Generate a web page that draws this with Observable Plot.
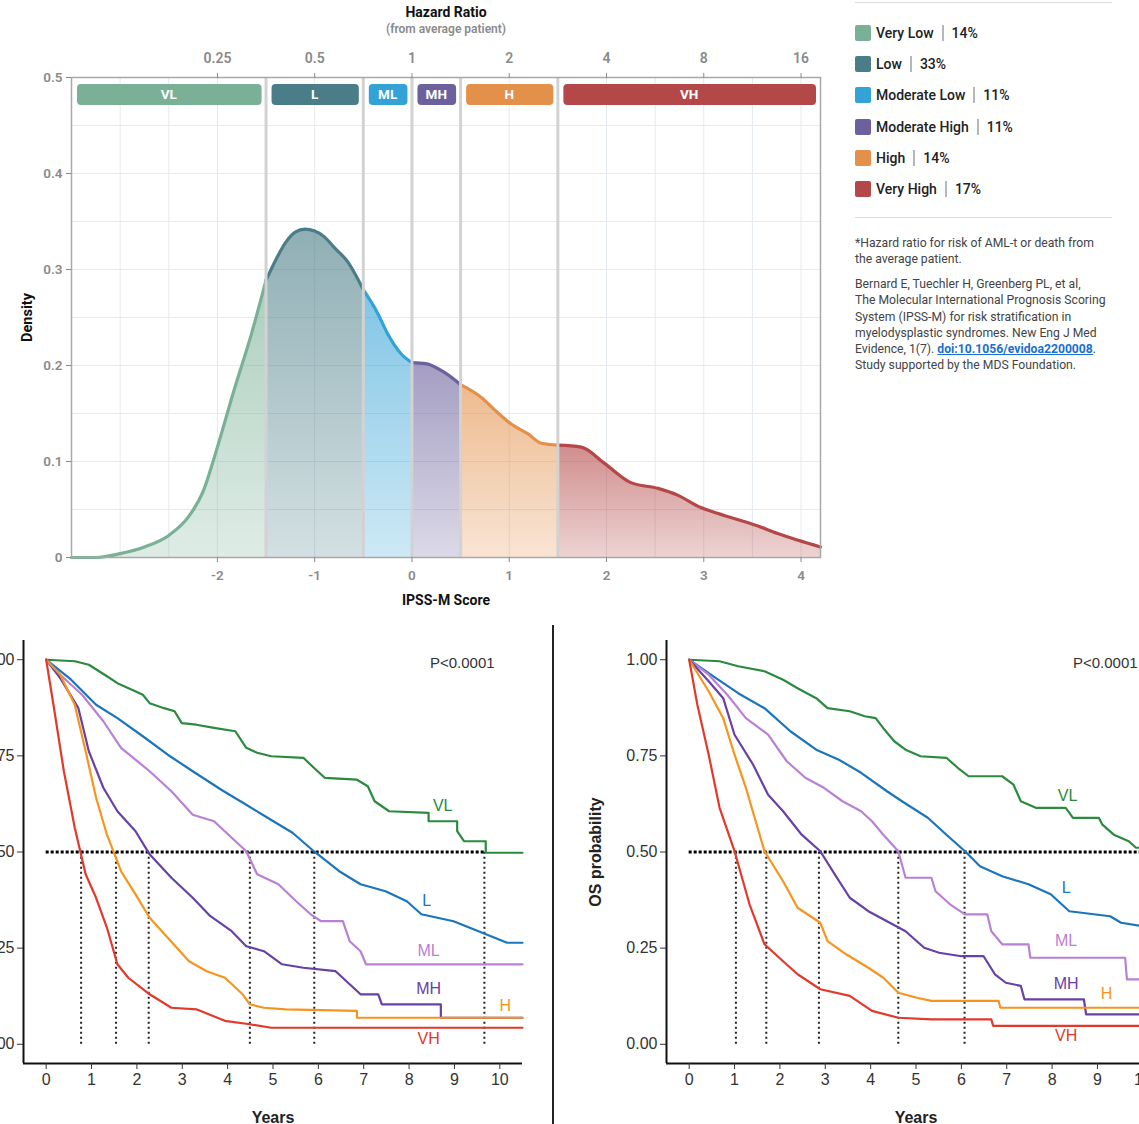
<!DOCTYPE html>
<html><head><meta charset="utf-8">
<script src="https://cdn.jsdelivr.net/npm/d3@7"></script>
<script src="https://cdn.jsdelivr.net/npm/@observablehq/plot@0.6"></script>
<style>
html,body{margin:0;padding:0;width:1139px;height:1124px;overflow:hidden;background:#fff;font-family:Roboto,sans-serif;}
body{position:relative;}
.abs{position:absolute;}
.rule{position:absolute;height:1px;background:#dcdcdc;}
.item{position:absolute;left:855px;height:18px;display:flex;align-items:center;font-size:14px;font-weight:500;color:#222;white-space:nowrap;}
.sw{width:16px;height:16px;border-radius:2px;margin-right:5px;}
.sep{width:2px;height:16px;background:#b3b8bf;margin:0 8px;}
.note{font-size:12.2px;line-height:16.3px;color:#444;white-space:nowrap;}
.note a{color:#1a6fd0;font-weight:700;text-decoration:underline;}
</style></head><body>
<div id="top" class="abs" style="left:0;top:0"></div>
<div id="km1" class="abs" style="left:-47px;top:620px"></div>
<div id="km2" class="abs" style="left:576px;top:620px"></div>
<div class="abs" style="left:552px;top:625px;width:2px;height:499px;background:#222"></div>
<div class="rule" style="left:855px;top:2px;width:257px"></div>
<div class="rule" style="left:855px;top:217px;width:257px"></div>
<div id="legend"></div>
<div class="abs note" style="left:855px;top:235px">*Hazard ratio for risk of AML-t or death from<br>the average patient.</div>
<div class="abs note" style="left:855px;top:276px">Bernard E, Tuechler H, Greenberg PL, et al,<br>The Molecular International Prognosis Scoring<br>System (IPSS-M) for risk stratification in<br>myelodysplastic syndromes. New Eng J Med<br>Evidence, 1(7). <a>doi:10.1056/evidoa2200008</a>.<br>Study supported by the MDS Foundation.</div>
<script>
// ---------- data ----------
const categories = ["VL","L","ML","MH","H","VH"];
const categoryNames = ["Very Low","Low","Moderate Low","Moderate High","High","Very High"];
const categoryShares = ["14%","33%","11%","11%","14%","17%"];
const categoryColors = ["#79b096","#4a7d87","#33a2d6","#6c619c","#e3904a","#b44747"];
const scoreBounds = [-3.5,-1.5,-0.5,0,0.5,1.5,4.2];
const scoreTicks = [-2,-1,0,1,2,3,4];
const hazardRatios = [0.25,0.5,1,2,4,8,16];
const densityTicks = [0,0.1,0.2,0.3,0.4,0.5];
const gridXTicks = [-3.5,-3,-2.5,-2,-1.5,-1,-0.5,0,0.5,1,1.5,2,2.5,3,3.5,4];
const gridYTicks = [0.05,0.1,0.15,0.2,0.25,0.3,0.35,0.4,0.45];
const densityScore = [-3.5,-3.25,-3.0,-2.75,-2.5,-2.3,-2.15,-2.0,-1.83,-1.65,-1.5,-1.4,-1.3,-1.2,-1.1,-1.0,-0.9,-0.8,-0.66,-0.5,-0.35,-0.25,-0.11,0,0.14,0.33,0.5,0.71,0.88,1.02,1.19,1.33,1.5,1.74,1.98,2.25,2.53,2.73,2.97,3.14,3.55,3.76,4.2];
const densityValue = [0,0,0.004,0.011,0.023,0.042,0.068,0.115,0.174,0.233,0.289,0.31,0.328,0.339,0.342,0.34,0.334,0.323,0.308,0.279,0.254,0.233,0.212,0.203,0.202,0.193,0.18,0.167,0.151,0.139,0.129,0.119,0.117,0.115,0.098,0.078,0.072,0.065,0.052,0.046,0.033,0.025,0.011];

const kmColors = ["#2a8a3e","#1b75bc","#b980d4","#6740a8","#f7941d","#e2392b"];
const yearTicks = [0,1,2,3,4,5,6,7,8,9,10];
const probTicks = [0,0.25,0.5,0.75,1];

const leftVL = [[0,1],[0.63,0.996],[0.94,0.987],[1.34,0.957],[1.57,0.939],[1.89,0.922],[2.13,0.909],[2.28,0.887],[2.6,0.874],[2.83,0.866],[2.99,0.835],[3.31,0.831],[3.7,0.823],[4.17,0.814],[4.41,0.771],[4.65,0.758],[4.96,0.749],[5.67,0.745],[5.9,0.719],[6.14,0.693],[6.85,0.688],[7.09,0.671],[7.24,0.632],[7.56,0.606],[8.43,0.602],[8.43,0.58],[9.06,0.58],[9.06,0.554],[9.21,0.528],[9.69,0.528],[9.69,0.498],[10.5,0.498]];
const leftL = [[0,1],[0.55,0.948],[1.1,0.883],[1.57,0.848],[2.13,0.801],[2.68,0.753],[3.23,0.71],[3.86,0.662],[4.41,0.623],[4.88,0.589],[5.43,0.55],[5.9,0.502],[6.46,0.45],[6.93,0.416],[7.48,0.398],[7.95,0.372],[8.27,0.338],[8.98,0.32],[9.53,0.294],[10.16,0.264],[10.5,0.264]];
const leftML = [[0,1],[0.31,0.961],[0.79,0.909],[1.26,0.84],[1.65,0.771],[2.28,0.71],[2.76,0.658],[3.23,0.597],[3.7,0.58],[4.09,0.537],[4.41,0.502],[4.65,0.442],[5.12,0.416],[5.51,0.372],[5.83,0.338],[6.06,0.32],[6.54,0.32],[6.69,0.268],[6.93,0.242],[7.05,0.208],[10.5,0.208]];
const leftMH = [[0,1],[0.31,0.952],[0.71,0.874],[0.94,0.762],[1.26,0.667],[1.57,0.606],[1.97,0.554],[2.28,0.494],[2.76,0.433],[3.23,0.381],[3.62,0.333],[4.09,0.294],[4.41,0.255],[4.8,0.242],[5.2,0.208],[5.67,0.199],[6.38,0.19],[6.69,0.156],[6.93,0.13],[7.32,0.13],[7.4,0.104],[8.7,0.104],[8.7,0.069],[10.5,0.069]];
const leftH = [[0,1],[0.31,0.961],[0.63,0.883],[0.87,0.762],[1.1,0.641],[1.34,0.545],[1.65,0.45],[1.97,0.39],[2.28,0.329],[2.68,0.277],[3.15,0.216],[3.54,0.19],[3.94,0.173],[4.33,0.13],[4.49,0.104],[4.8,0.095],[5.28,0.091],[6.85,0.087],[6.85,0.069],[10.5,0.069]];
const leftVH = [[0,1],[0.16,0.883],[0.39,0.71],[0.63,0.563],[0.87,0.442],[1.1,0.381],[1.34,0.303],[1.57,0.208],[1.81,0.173],[2.28,0.13],[2.76,0.095],[3.31,0.091],[3.94,0.061],[4.49,0.052],[4.96,0.043],[10.5,0.043]];
const leftMedians = [0.77,1.54,2.26,4.49,5.91,9.66];
const leftLabelX = [8.74,8.39,8.43,8.43,10.12,8.43];
const leftLabelY = [0.619,0.372,0.242,0.145,0.1,0.013];

const rightVL = [[0,1],[0.67,0.996],[1.08,0.983],[1.66,0.97],[2.07,0.948],[2.39,0.926],[2.8,0.9],[3.05,0.874],[3.54,0.866],[3.87,0.853],[4.11,0.848],[4.28,0.822],[4.52,0.788],[4.77,0.766],[5.1,0.749],[5.67,0.745],[5.92,0.719],[6.16,0.697],[6.9,0.697],[7.15,0.675],[7.31,0.632],[7.64,0.615],[8.3,0.615],[8.46,0.589],[9.03,0.589],[9.11,0.571],[9.36,0.545],[9.69,0.528],[9.85,0.511],[10.5,0.511]];
const rightL = [[0,1],[0.59,0.952],[1.08,0.913],[1.66,0.874],[2.23,0.814],[2.8,0.766],[3.3,0.74],[3.79,0.706],[4.36,0.658],[4.69,0.632],[5.26,0.589],[5.67,0.545],[6.08,0.502],[6.41,0.463],[6.9,0.437],[7.48,0.416],[7.97,0.39],[8.21,0.364],[8.38,0.346],[9.28,0.333],[9.52,0.316],[10.0,0.307],[10.5,0.3]];
const rightML = [[0,1],[0.43,0.961],[0.84,0.909],[1.25,0.848],[1.74,0.805],[2.15,0.736],[2.56,0.693],[2.97,0.667],[3.38,0.632],[3.79,0.606],[4.03,0.58],[4.28,0.545],[4.61,0.502],[4.77,0.433],[5.34,0.433],[5.43,0.398],[5.75,0.364],[6.08,0.338],[6.57,0.338],[6.66,0.294],[6.9,0.26],[7.48,0.26],[7.52,0.225],[9.61,0.225],[9.65,0.169],[10.5,0.169]];
const rightMH = [[0,1],[0.43,0.944],[0.75,0.9],[1.0,0.805],[1.41,0.727],[1.74,0.649],[2.07,0.606],[2.48,0.545],[2.89,0.502],[3.21,0.442],[3.54,0.381],[3.95,0.346],[4.36,0.32],[4.77,0.294],[5.18,0.251],[5.51,0.238],[6.0,0.229],[6.49,0.229],[6.74,0.182],[6.98,0.16],[7.31,0.152],[7.39,0.117],[8.7,0.117],[8.75,0.078],[10.5,0.078]];
const rightH = [[0,1],[0.43,0.918],[0.75,0.848],[1.0,0.753],[1.25,0.667],[1.66,0.502],[2.07,0.424],[2.39,0.355],[2.89,0.316],[3.05,0.268],[3.46,0.234],[3.95,0.199],[4.28,0.173],[4.61,0.134],[5.02,0.121],[5.34,0.113],[6.82,0.113],[6.86,0.095],[10.5,0.095]];
const rightVH = [[0,1],[0.18,0.883],[0.43,0.753],[0.67,0.615],[1.0,0.502],[1.33,0.364],[1.66,0.26],[2.07,0.216],[2.39,0.182],[2.89,0.143],[3.54,0.126],[4.03,0.087],[4.61,0.069],[5.34,0.065],[6.66,0.065],[6.7,0.048],[10.5,0.048]];
const rightMedians = [1.03,1.70,2.86,4.61,6.07];
const rightLabelX = [8.34,8.31,8.31,8.31,9.2,8.31];
const rightLabelY = [0.645,0.407,0.268,0.156,0.13,0.022];
const pValueText = "P<0.0001";

// ---------- top density chart ----------
const densityPts = densityScore.map((s, i) => ({score: s, density: densityValue[i]}));
const segments = categories.map((c, i) => densityPts.filter(d => d.score >= scoreBounds[i] && d.score <= scoreBounds[i + 1]));
const catData = categories.map((c, i) => ({cat: c, lo: scoreBounds[i], hi: scoreBounds[i + 1]}));
const centered = {textAnchor: "middle", lineAnchor: "middle"};

const topSvg = Plot.plot({
  width: 840, height: 620,
  marginLeft: 71, marginRight: 20, marginTop: 77, marginBottom: 63,
  x: {domain: [scoreBounds[0], scoreBounds[scoreBounds.length - 1]]},
  y: {domain: [0, 0.5]},
  color: {domain: categories, range: categoryColors},
  style: {fontFamily: "Roboto, sans-serif", background: "transparent", overflow: "visible", maxWidth: "none"},
  marks: [
    Plot.gridX(gridXTicks, {stroke: "#e4eaef", strokeOpacity: 1}),
    Plot.gridY(gridYTicks, {stroke: "#e4eaef", strokeOpacity: 1}),
    ...segments.map((seg, i) => Plot.areaY(seg, {x: "score", y: "density", fill: `url(#grad-${categories[i]})`, curve: "monotone-x"})),
    ...segments.map((seg, i) => Plot.line(seg, {x: "score", y: "density", stroke: categoryColors[i], strokeWidth: 3.2, curve: "monotone-x"})),
    Plot.ruleX(scoreBounds.slice(1, -1), {stroke: "#d2d2d2", strokeWidth: 3}),
    Plot.frame({stroke: "#a8a8a8", strokeWidth: 1.5}),
    Plot.rect(catData, {x1: "lo", x2: "hi", y1: 0.4708, y2: 0.4927, fill: "cat", rx: 4, insetLeft: 6, insetRight: 4}),
    Plot.text(catData, {x: d => (d.lo + d.hi) / 2, y: 0.4817, text: "cat", fill: "white", fontWeight: 700, fontSize: 13.5}),
    Plot.axisY({ticks: densityTicks, tickFormat: d => String(d), tickSize: 5, tickPadding: 4, color: "#8a8a8a", fontSize: 13.5, fontWeight: 600, label: null}),
    Plot.axisX({anchor: "bottom", ticks: scoreTicks, tickFormat: d => String(d), tickSize: 5, tickPadding: 8, color: "#8a8a8a", fontSize: 13.5, fontWeight: 600, label: null}),
    Plot.axisX({anchor: "top", ticks: hazardRatios.map(h => Math.log2(h)), tickFormat: d => String(2 ** d), tickSize: 5, tickPadding: 10, color: "#8a8a8a", fontSize: 14, fontWeight: 600, label: null}),
    Plot.text(["Density"], {text: d => d, frameAnchor: "left", rotate: -90, dx: -44, ...centered, fontWeight: 700, fontSize: 14.5, fill: "#111"}),
    Plot.text(["IPSS-M Score"], {text: d => d, frameAnchor: "bottom", dy: 43, ...centered, fontWeight: 700, fontSize: 14, fill: "#111"}),
    Plot.text(["Hazard Ratio"], {text: d => d, frameAnchor: "top", dy: -65, ...centered, fontWeight: 700, fontSize: 14, fill: "#111"}),
    Plot.text(["(from average patient)"], {text: d => d, frameAnchor: "top", dy: -48, ...centered, fontWeight: 600, fontSize: 12, fill: "#8a8a8a"})
  ]
});
const defs = d3.select(topSvg).insert("defs", ":first-child");
categories.forEach((c, i) => {
  const g = defs.append("linearGradient").attr("id", `grad-${c}`).attr("x1", 0).attr("y1", 0).attr("x2", 0).attr("y2", 1);
  g.append("stop").attr("offset", "0%").attr("stop-color", categoryColors[i]).attr("stop-opacity", 0.62);
  g.append("stop").attr("offset", "100%").attr("stop-color", categoryColors[i]).attr("stop-opacity", 0.24);
});
document.getElementById("top").appendChild(topSvg);

// ---------- legend ----------
const legend = d3.select("#legend");
categoryNames.forEach((n, i) => {
  const it = legend.append("div").attr("class", "item").style("top", (24 + i * 31.2) + "px");
  it.append("div").attr("class", "sw").style("background", categoryColors[i]);
  it.append("span").text(n);
  it.append("div").attr("class", "sep");
  it.append("span").text(categoryShares[i]);
});

// ---------- KM charts ----------
function kmChart(series, medians, labelX, labelY, hEnd, marginLeft, yLabel) {
  const labels = categories.map((c, i) => ({cat: c, x: labelX[i], y: labelY[i]}));
  return Plot.plot({
    width: marginLeft + 499 + 10, height: 513,
    marginLeft, marginRight: 10, marginTop: 20, marginBottom: 70,
    x: {domain: [-0.5, 10.5]},
    y: {domain: [-0.05, 1.05]},
    color: {domain: categories, range: kmColors},
    style: {fontFamily: "'Liberation Sans', Arial, sans-serif", background: "transparent", overflow: "visible", maxWidth: "none"},
    marks: [
      Plot.ruleY([0.5], {x1: 0, x2: hEnd, stroke: "#000", strokeWidth: 3, strokeDasharray: "3,2"}),
      Plot.ruleX(medians, {y1: 0, y2: 0.5, stroke: "#222", strokeWidth: 2, strokeDasharray: "2,3"}),
      ...series.map((s, i) => Plot.line(s, {x: d => d[0], y: d => d[1], stroke: kmColors[i], strokeWidth: 2.2})),
      Plot.text(labels, {x: "x", y: "y", text: "cat", fill: "cat", fontSize: 16}),
      Plot.text([pValueText], {text: d => d, x: 8.46, y: 0.99, textAnchor: "start", fontSize: 15, fill: "#333"}),
      Plot.ruleX([-0.5], {stroke: "#111", strokeWidth: 2}),
      Plot.ruleY([-0.05], {stroke: "#111", strokeWidth: 2}),
      Plot.axisY({ticks: probTicks, tickFormat: d3.format(".2f"), tickSize: 6, tickPadding: 3, fontSize: 16, color: "#333", label: null}),
      Plot.axisX({ticks: yearTicks, tickSize: 6, tickPadding: 4, fontSize: 16, color: "#333", label: null}),
      Plot.text(["Years"], {text: d => d, frameAnchor: "bottom", dy: 54, ...centered, fontWeight: 700, fontSize: 16, fill: "#222"}),
      ...(yLabel ? [Plot.text([yLabel], {text: d => d, frameAnchor: "left", rotate: -90, dx: -71, ...centered, fontWeight: 700, fontSize: 16, fill: "#222"})] : [])
    ]
  });
}
document.getElementById("km1").appendChild(kmChart([leftVL, leftL, leftML, leftMH, leftH, leftVH], leftMedians, leftLabelX, leftLabelY, 9.69, 70, null));
document.getElementById("km2").appendChild(kmChart([rightVL, rightL, rightML, rightMH, rightH, rightVH], rightMedians, rightLabelX, rightLabelY, 10.5, 90, "OS probability"));
</script>
</body></html>
